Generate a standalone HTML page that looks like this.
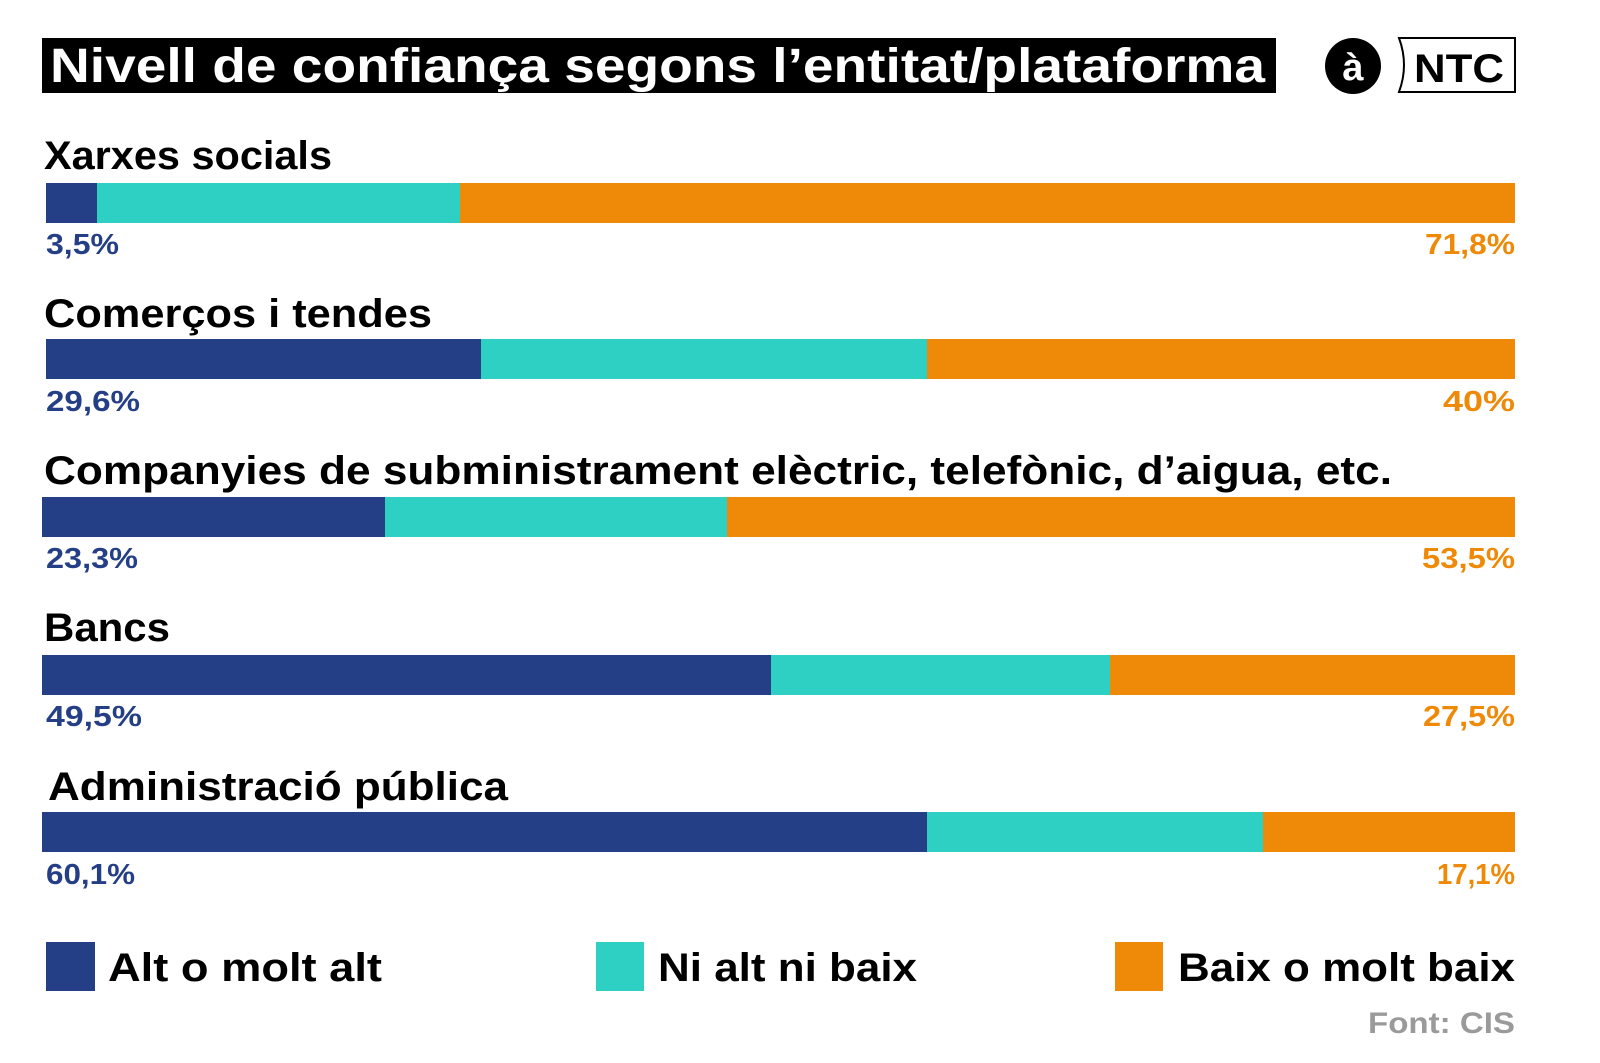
<!DOCTYPE html>
<html><head><meta charset="utf-8"><style>
html,body{margin:0;padding:0;background:#fff;}
svg{display:block;}
text{font-family:"Liberation Sans",sans-serif;font-weight:bold;}
</style></head><body>
<svg width="1600" height="1063" viewBox="0 0 1600 1063" xmlns="http://www.w3.org/2000/svg">
<rect x="0" y="0" width="1600" height="1063" fill="#fff"/>
<rect x="42" y="38" width="1234" height="55" fill="#000"/>
<text x="50" y="82" font-size="48" fill="#fff" textLength="1215" lengthAdjust="spacingAndGlyphs">Nivell de confiança segons l’entitat/plataforma</text>
<circle cx="1353" cy="66" r="28" fill="#000"/>
<text x="1353" y="80" font-size="38" fill="#fff" text-anchor="middle">à</text>
<path d="M1399 38 H1515 V92 H1399 Q1409 65 1399 38 Z" fill="#fff" stroke="#000" stroke-width="2"/>
<text x="1414" y="82" font-size="40" fill="#000" textLength="90" lengthAdjust="spacingAndGlyphs">NTC</text>

<g fill="#000" font-size="40">
<text x="44" y="169" textLength="288" lengthAdjust="spacingAndGlyphs">Xarxes socials</text>
<text x="44" y="327" textLength="388" lengthAdjust="spacingAndGlyphs">Comerços i tendes</text>
<text x="44" y="484" textLength="1348" lengthAdjust="spacingAndGlyphs">Companyies de subministrament elèctric, telefònic, d’aigua, etc.</text>
<text x="44" y="641" textLength="126" lengthAdjust="spacingAndGlyphs">Bancs</text>
<text x="48" y="800" textLength="460" lengthAdjust="spacingAndGlyphs">Administració pública</text>
</g>

<rect x="46" y="183" width="51" height="40" fill="#253f86"/>
<rect x="97" y="183" width="363" height="40" fill="#2dd0c3"/>
<rect x="460" y="183" width="1055" height="40" fill="#ee8a07"/>

<rect x="46" y="339" width="435" height="40" fill="#253f86"/>
<rect x="481" y="339" width="446" height="40" fill="#2dd0c3"/>
<rect x="927" y="339" width="588" height="40" fill="#ee8a07"/>

<rect x="42" y="497" width="343" height="40" fill="#253f86"/>
<rect x="385" y="497" width="342" height="40" fill="#2dd0c3"/>
<rect x="727" y="497" width="788" height="40" fill="#ee8a07"/>

<rect x="42" y="655" width="729" height="40" fill="#253f86"/>
<rect x="771" y="655" width="339" height="40" fill="#2dd0c3"/>
<rect x="1110" y="655" width="405" height="40" fill="#ee8a07"/>

<rect x="42" y="812" width="885" height="40" fill="#253f86"/>
<rect x="927" y="812" width="336" height="40" fill="#2dd0c3"/>
<rect x="1263" y="812" width="252" height="40" fill="#ee8a07"/>

<g font-size="29" fill="#253f86">
<text x="46" y="254" textLength="73" lengthAdjust="spacingAndGlyphs">3,5%</text>
<text x="46" y="411" textLength="94" lengthAdjust="spacingAndGlyphs">29,6%</text>
<text x="46" y="568" textLength="92" lengthAdjust="spacingAndGlyphs">23,3%</text>
<text x="46" y="726" textLength="96" lengthAdjust="spacingAndGlyphs">49,5%</text>
<text x="46" y="884" textLength="89" lengthAdjust="spacingAndGlyphs">60,1%</text>
</g>
<g font-size="29" fill="#ee8a07" text-anchor="end">
<text x="1515" y="254" textLength="90" lengthAdjust="spacingAndGlyphs">71,8%</text>
<text x="1515" y="411" textLength="72" lengthAdjust="spacingAndGlyphs">40%</text>
<text x="1515" y="568" textLength="93" lengthAdjust="spacingAndGlyphs">53,5%</text>
<text x="1515" y="726" textLength="92" lengthAdjust="spacingAndGlyphs">27,5%</text>
<text x="1515" y="884" textLength="78" lengthAdjust="spacingAndGlyphs">17,1%</text>
</g>

<rect x="46" y="942" width="49" height="49" fill="#253f86"/>
<rect x="596" y="942" width="48" height="49" fill="#2dd0c3"/>
<rect x="1115" y="942" width="48" height="49" fill="#ee8a07"/>
<g font-size="40" fill="#000">
<text x="108" y="981" textLength="274" lengthAdjust="spacingAndGlyphs">Alt o molt alt</text>
<text x="658" y="981" textLength="259" lengthAdjust="spacingAndGlyphs">Ni alt ni baix</text>
<text x="1178" y="981" textLength="337" lengthAdjust="spacingAndGlyphs">Baix o molt baix</text>
</g>
<text x="1515" y="1033" font-size="30" fill="#9a9a9a" text-anchor="end" textLength="147" lengthAdjust="spacingAndGlyphs">Font: CIS</text>
</svg>
</body></html>
